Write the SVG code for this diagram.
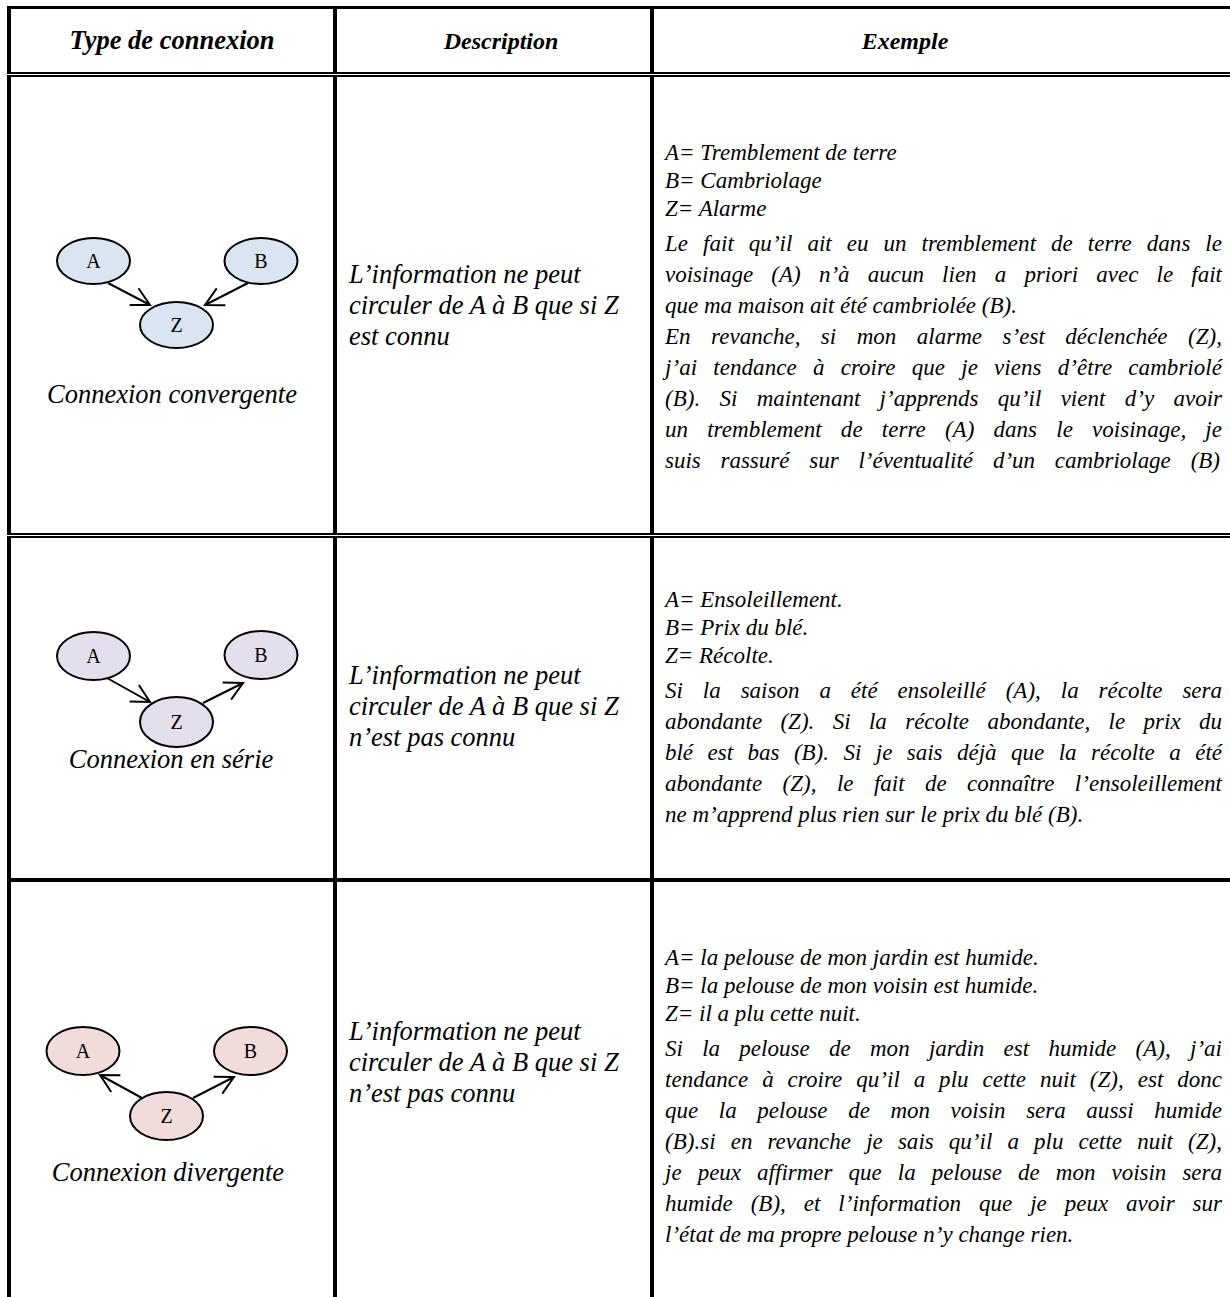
<svg xmlns="http://www.w3.org/2000/svg" width="1230" height="1297" viewBox="0 0 1230 1297">
  <style>
    .rule { fill: #000; }
    .gap { fill: #fff; }
    .head { font-family: "Liberation Serif", "Times New Roman", serif; font-size: 24px; font-weight: bold; font-style: italic; fill: #000; text-anchor: middle; }
    .head.big { font-size: 26.5px; }
    .body { font-family: "Liberation Serif", "Times New Roman", serif; font-size: 23px; font-style: italic; fill: #000; }
    .desc { font-family: "Liberation Serif", "Times New Roman", serif; font-size: 26.5px; font-style: italic; fill: #000; }
    .cap { font-family: "Liberation Serif", "Times New Roman", serif; font-size: 26.5px; font-style: italic; fill: #000; text-anchor: middle; }
    .node ellipse { stroke: #000; stroke-width: 2; }
    .node text { font-family: "Liberation Serif", "Times New Roman", serif; font-size: 20px; fill: #000; text-anchor: middle; }
    .conv ellipse { fill: #dbe5f1; }
    .serie ellipse { fill: #e4dfec; }
    .div ellipse { fill: #f2dcdb; }
    .edge { stroke: #000; stroke-width: 2; fill: none; marker-end: url(#open); }
  </style>
  <defs>
    <marker id="open" markerUnits="userSpaceOnUse" markerWidth="24" markerHeight="24" viewBox="-20 -12 24 24" refX="0" refY="0" orient="auto">
      <path d="M-18,-9.5 L0,0 L-18,9.5" fill="none" stroke="#000" stroke-width="2"/>
    </marker>
  </defs>

  <rect width="1230" height="1297" fill="#fff"/>

  <!-- table rules -->
  <g id="table">
    <rect class="rule" x="7" y="6" width="1223" height="3"/>
    <rect class="rule" x="7" y="6" width="4" height="1291"/>
    <rect class="rule" x="333" y="6" width="4" height="1291"/>
    <rect class="rule" x="650" y="6" width="4" height="1291"/>
    <!-- double rule under header -->
    <rect class="rule" x="7" y="72" width="1223" height="2"/>
    <rect class="gap" x="7" y="74" width="1223" height="1"/>
    <rect class="rule" x="7" y="75" width="1223" height="2"/>
    <!-- double rule after first row -->
    <rect class="rule" x="7" y="533" width="1223" height="2"/>
    <rect class="gap" x="7" y="535" width="1223" height="1"/>
    <rect class="rule" x="7" y="536" width="1223" height="2"/>
    <!-- rule after second row -->
    <rect class="rule" x="7" y="878" width="1223" height="4"/>
  </g>

  <!-- header -->
  <g id="header">
    <text class="head big" x="172" y="49">Type de connexion</text>
    <text class="head" x="501" y="49">Description</text>
    <text class="head" x="905" y="49">Exemple</text>
  </g>

  <!-- row 1: convergent -->
  <g id="conv-A" class="node conv"><ellipse cx="93.5" cy="261" rx="36.5" ry="23"/><text x="93.5" y="268">A</text></g>
  <g id="conv-B" class="node conv"><ellipse cx="261" cy="261" rx="36.5" ry="23"/><text x="261" y="268">B</text></g>
  <g id="conv-Z" class="node conv"><ellipse cx="176.5" cy="325" rx="36.5" ry="23"/><text x="176.5" y="332">Z</text></g>

  <!-- row 2: serial -->
  <g id="serie-A" class="node serie"><ellipse cx="93.5" cy="656" rx="36.5" ry="24"/><text x="93.5" y="663">A</text></g>
  <g id="serie-B" class="node serie"><ellipse cx="261" cy="655" rx="36.5" ry="24"/><text x="261" y="662">B</text></g>
  <g id="serie-Z" class="node serie"><ellipse cx="176.5" cy="722" rx="36.5" ry="25"/><text x="176.5" y="729">Z</text></g>

  <!-- row 3: divergent -->
  <g id="div-A" class="node div"><ellipse cx="83" cy="1051" rx="36.5" ry="24"/><text x="83" y="1058">A</text></g>
  <g id="div-B" class="node div"><ellipse cx="250.5" cy="1051" rx="36.5" ry="24"/><text x="250.5" y="1058">B</text></g>
  <g id="div-Z" class="node div"><ellipse cx="166.5" cy="1116" rx="36.5" ry="24"/><text x="166.5" y="1123">Z</text></g>

  <g id="connectors">
    <line class="edge" x1="108" y1="283" x2="150" y2="305"/>
    <line class="edge" x1="248" y1="283" x2="205" y2="305"/>
    <line class="edge" x1="107" y1="678" x2="150" y2="702"/>
    <line class="edge" x1="203" y1="703" x2="243" y2="683"/>
    <line class="edge" x1="142" y1="1098" x2="100" y2="1075"/>
    <line class="edge" x1="193" y1="1098" x2="234" y2="1077"/>
  </g>

  <!-- connection type captions -->
  <g id="captions">
    <text class="cap" x="172" y="403">Connexion convergente</text>
    <text class="cap" x="171" y="768">Connexion en série</text>
    <text class="cap" x="168" y="1181">Connexion divergente</text>
  </g>

  <!-- description column -->
  <g id="descriptions" class="desc">
    <text x="349" y="283">L’information ne peut</text>
    <text x="349" y="314">circuler de A à B que si Z</text>
    <text x="349" y="345">est connu</text>

    <text x="349" y="684">L’information ne peut</text>
    <text x="349" y="715">circuler de A à B que si Z</text>
    <text x="349" y="746">n’est pas connu</text>

    <text x="349" y="1040">L’information ne peut</text>
    <text x="349" y="1071">circuler de A à B que si Z</text>
    <text x="349" y="1102">n’est pas connu</text>
  </g>

  <!-- example column; justified lines use widened word spacing -->
  <g id="example-1" class="body">
    <text x="665" y="160">A= Tremblement de terre</text>
    <text x="665" y="188">B= Cambriolage</text>
    <text x="665" y="216">Z= Alarme</text>
    <text x="665" y="251" word-spacing="9.2" textLength="557" lengthAdjust="spacing">Le fait qu’il ait eu un tremblement de terre dans le</text>
    <text x="665" y="282" word-spacing="12.4" textLength="557" lengthAdjust="spacing">voisinage (A) n’à aucun lien a priori avec le fait</text>
    <text x="665" y="313">que ma maison ait été cambriolée (B).</text>
    <text x="665" y="344" word-spacing="14.7" textLength="557" lengthAdjust="spacing">En revanche, si mon alarme s’est déclenchée (Z),</text>
    <text x="665" y="375" word-spacing="10.4" textLength="557" lengthAdjust="spacing">j’ai tendance à croire que je viens d’être cambriolé</text>
    <text x="665" y="406" word-spacing="13.5" textLength="557" lengthAdjust="spacing">(B). Si maintenant j’apprends qu’il vient d’y avoir</text>
    <text x="665" y="437" word-spacing="13.3" textLength="557" lengthAdjust="spacing">un tremblement de terre (A) dans le voisinage, je</text>
    <text x="665" y="468" word-spacing="14.2" textLength="555" lengthAdjust="spacing">suis rassuré sur l’éventualité d’un cambriolage (B)</text>
  </g>

  <g id="example-2" class="body">
    <text x="665" y="607">A= Ensoleillement.</text>
    <text x="665" y="635">B= Prix du blé.</text>
    <text x="665" y="663">Z= Récolte.</text>
    <text x="665" y="698" word-spacing="14.2" textLength="557" lengthAdjust="spacing">Si la saison a été ensoleillé (A), la récolte sera</text>
    <text x="665" y="729" word-spacing="12.6" textLength="557" lengthAdjust="spacing">abondante (Z). Si la récolte abondante, le prix du</text>
    <text x="665" y="760" word-spacing="8.7" textLength="557" lengthAdjust="spacing">blé est bas (B). Si je sais déjà que la récolte a été</text>
    <text x="665" y="791" word-spacing="14.6" textLength="557" lengthAdjust="spacing">abondante (Z), le fait de connaître l’ensoleillement</text>
    <text x="665" y="822">ne m’apprend plus rien sur le prix du blé (B).</text>
  </g>

  <g id="example-3" class="body">
    <text x="665" y="965">A= la pelouse de mon jardin est humide.</text>
    <text x="665" y="993">B= la pelouse de mon voisin est humide.</text>
    <text x="665" y="1021">Z= il a plu cette nuit.</text>
    <text x="665" y="1056" word-spacing="13.5" textLength="557" lengthAdjust="spacing">Si la pelouse de mon jardin est humide (A), j’ai</text>
    <text x="665" y="1087" word-spacing="8.1" textLength="557" lengthAdjust="spacing">tendance à croire qu’il a plu cette nuit (Z), est donc</text>
    <text x="665" y="1118" word-spacing="14.8" textLength="557" lengthAdjust="spacing">que la pelouse de mon voisin sera aussi humide</text>
    <text x="665" y="1149" word-spacing="9.3" textLength="557" lengthAdjust="spacing">(B).si en revanche je sais qu’il a plu cette nuit (Z),</text>
    <text x="665" y="1180" word-spacing="10.3" textLength="557" lengthAdjust="spacing">je peux affirmer que la pelouse de mon voisin sera</text>
    <text x="665" y="1211" word-spacing="12.2" textLength="557" lengthAdjust="spacing">humide (B), et l’information que je peux avoir sur</text>
    <text x="665" y="1242">l’état de ma propre pelouse n’y change rien.</text>
  </g>
</svg>
